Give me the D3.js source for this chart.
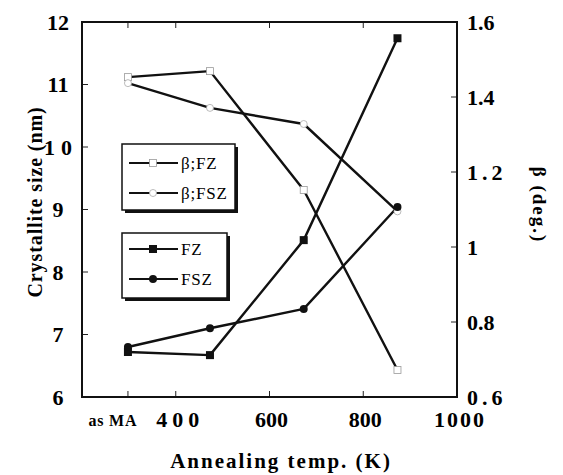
<!DOCTYPE html>
<html>
<head>
<meta charset="utf-8">
<script src="https://cdn.jsdelivr.net/npm/d3@7/dist/d3.min.js"></script>
<style>
  html, body { margin: 0; padding: 0; background: #fff; }
  svg { display: block; }
</style>
</head>
<body>
<svg id="chart" width="563" height="475" font-family="'Liberation Serif', 'Times New Roman', Times, 'DejaVu Serif', serif"></svg>
<script>
// Annealing temperatures (K); the first point is the as-milled (as MA) state
const temps = [298, 473, 673, 873];

// Crystallite size (nm), left axis
const sizeFZ  = [6.72, 6.67, 8.51, 11.74];
const sizeFSZ = [6.80, 7.10, 7.41, 9.04];

// Peak broadening beta (deg.), right axis
const betaFZ  = [1.453, 1.469, 1.152, 0.672];
const betaFSZ = [1.437, 1.371, 1.328, 1.095];

// Axis ticks and labels
const xTicks = [400, 600, 800, 1000];
const xTickLabels = ["400", "600", "800", "1000"];
const asMALabel = "as MA";
const yLeftTicks = [6, 7, 8, 9, 10, 11, 12];
const yLeftLabels = ["6", "7", "8", "9", "10", "11", "12"];
const yRightTicks = [0.6, 0.8, 1.0, 1.2, 1.4, 1.6];
const yRightLabels = ["0.6", "0.8", "1", "1.2", "1.4", "1.6"];

const svg = d3.select("#chart");
const L = 82, R = 457, T = 22, B = 397;

const x = d3.scaleLinear().domain([200, 1000]).range([L, R]);
const yL = d3.scaleLinear().domain([6, 12]).range([B, T]);
const yR = d3.scaleLinear().domain([0.6, 1.6]).range([B, T]);

// Inward ticks on all four sides
const tickLen = 6;
const axes = svg.append("g").attr("stroke", "#222").attr("stroke-width", 1);
yLeftTicks.forEach(v => {
  axes.append("line").attr("x1", L).attr("x2", L + tickLen).attr("y1", yL(v)).attr("y2", yL(v));
});
yRightTicks.forEach(v => {
  axes.append("line").attr("x1", R).attr("x2", R - tickLen).attr("y1", yR(v)).attr("y2", yR(v));
});
[temps[0]].concat(xTicks).forEach(v => {
  axes.append("line").attr("x1", x(v)).attr("x2", x(v)).attr("y1", B).attr("y2", B - tickLen);
  axes.append("line").attr("x1", x(v)).attr("x2", x(v)).attr("y1", T).attr("y2", T + tickLen);
});

// Plot frame
svg.append("rect")
  .attr("x", L).attr("y", T).attr("width", R - L).attr("height", B - T)
  .attr("fill", "none").attr("stroke", "#111").attr("stroke-width", 2);

// Tick labels (letter-spacing is trailing, so centred labels are nudged by half of it)
const spacing = { "10": 6, "1.2": 4, "0.6": 4, "400": 5, "1000": 2 };
const tickFont = 22;
yLeftTicks.forEach((v, i) => {
  const ls = spacing[yLeftLabels[i]] || 0;
  svg.append("text").attr("x", 58 + ls / 2).attr("y", yL(v)).attr("dy", "0.35em")
    .attr("text-anchor", "middle").attr("font-size", tickFont).attr("font-weight", "bold")
    .attr("letter-spacing", ls)
    .text(yLeftLabels[i]);
});
yRightTicks.forEach((v, i) => {
  svg.append("text").attr("x", 467).attr("y", yR(v)).attr("dy", "0.35em")
    .attr("text-anchor", "start").attr("font-size", tickFont).attr("font-weight", "bold")
    .attr("letter-spacing", spacing[yRightLabels[i]] || 0)
    .text(yRightLabels[i]);
});
xTicks.forEach((v, i) => {
  const ls = spacing[xTickLabels[i]] || 0;
  svg.append("text").attr("x", x(v) + 2 + ls / 2).attr("y", 427)
    .attr("text-anchor", "middle").attr("font-size", tickFont).attr("font-weight", "bold")
    .attr("letter-spacing", ls)
    .text(xTickLabels[i]);
});
svg.append("text").attr("x", x(temps[0]) - 15).attr("y", 426)
  .attr("text-anchor", "middle").attr("font-size", 16).attr("font-weight", "bold")
  .attr("letter-spacing", 0.8)
  .text(asMALabel);

// Axis titles
svg.append("text").attr("x", 281).attr("y", 468)
  .attr("text-anchor", "middle").attr("font-size", 21).attr("font-weight", "bold")
  .attr("letter-spacing", 2)
  .text("Annealing temp. (K)");
svg.append("text")
  .attr("transform", "translate(42,202) rotate(-90)")
  .attr("text-anchor", "middle").attr("font-size", 20).attr("font-weight", "bold")
  .attr("letter-spacing", 0.9)
  .text("Crystallite size (nm)");
svg.append("text")
  .attr("transform", "translate(533,205) rotate(90)")
  .attr("text-anchor", "middle").attr("font-size", 19).attr("font-weight", "bold")
  .attr("letter-spacing", 2)
  .text("β (deg.)");

// Series
const series = [
  { name: "β;FZ",  vals: betaFZ,  y: yR, marker: "openSquare" },
  { name: "β;FSZ", vals: betaFSZ, y: yR, marker: "openCircle" },
  { name: "FZ",    vals: sizeFZ,  y: yL, marker: "square" },
  { name: "FSZ",   vals: sizeFSZ, y: yL, marker: "circle" }
];

function drawMarker(g, type, cx, cy) {
  if (type === "square") {
    g.append("rect").attr("x", cx - 4).attr("y", cy - 4).attr("width", 8).attr("height", 8)
      .attr("fill", "#111");
  } else if (type === "circle") {
    g.append("circle").attr("cx", cx).attr("cy", cy).attr("r", 4).attr("fill", "#111");
  } else if (type === "openSquare") {
    g.append("rect").attr("x", cx - 3.5).attr("y", cy - 3.5).attr("width", 7).attr("height", 7)
      .attr("fill", "#fff").attr("stroke", "#999").attr("stroke-width", 0.8);
  } else {
    g.append("circle").attr("cx", cx).attr("cy", cy).attr("r", 3.5)
      .attr("fill", "#fff").attr("stroke", "#aaa").attr("stroke-width", 0.8);
  }
}

const lineG = svg.append("g");
const markG = svg.append("g");
series.forEach(s => {
  const line = d3.line().x((d, i) => x(temps[i])).y(d => s.y(d));
  lineG.append("path").datum(s.vals).attr("d", line)
    .attr("fill", "none").attr("stroke", "#111").attr("stroke-width", 2.4)
    .attr("stroke-linejoin", "round");
});
series.forEach(s => {
  s.vals.forEach((v, i) => drawMarker(markG, s.marker, x(temps[i]), s.y(v)));
});

// Legends: two framed boxes with a drop shadow
function legendBox(x0, y0, w, h, items, rows) {
  const g = svg.append("g");
  g.append("rect").attr("x", x0 + 3).attr("y", y0 + 3).attr("width", w).attr("height", h)
    .attr("fill", "#111");
  g.append("rect").attr("x", x0).attr("y", y0).attr("width", w).attr("height", h)
    .attr("fill", "#fff").attr("stroke", "#111").attr("stroke-width", 1.5);
  items.forEach((s, i) => {
    const yy = rows[i];
    g.append("line").attr("x1", x0 + 7).attr("x2", x0 + 56).attr("y1", yy).attr("y2", yy)
      .attr("stroke", "#111").attr("stroke-width", 2);
    drawMarker(g, s.marker, x0 + 31, yy);
    g.append("text").attr("x", x0 + 59).attr("y", yy).attr("dy", "0.33em")
      .attr("font-size", 17).attr("letter-spacing", 0.8).text(s.name);
  });
}
legendBox(122, 144, 113, 66, series.slice(0, 2), [163, 193]);
legendBox(122, 233, 105, 65, series.slice(2, 4), [249, 279]);
</script>
</body>
</html>
